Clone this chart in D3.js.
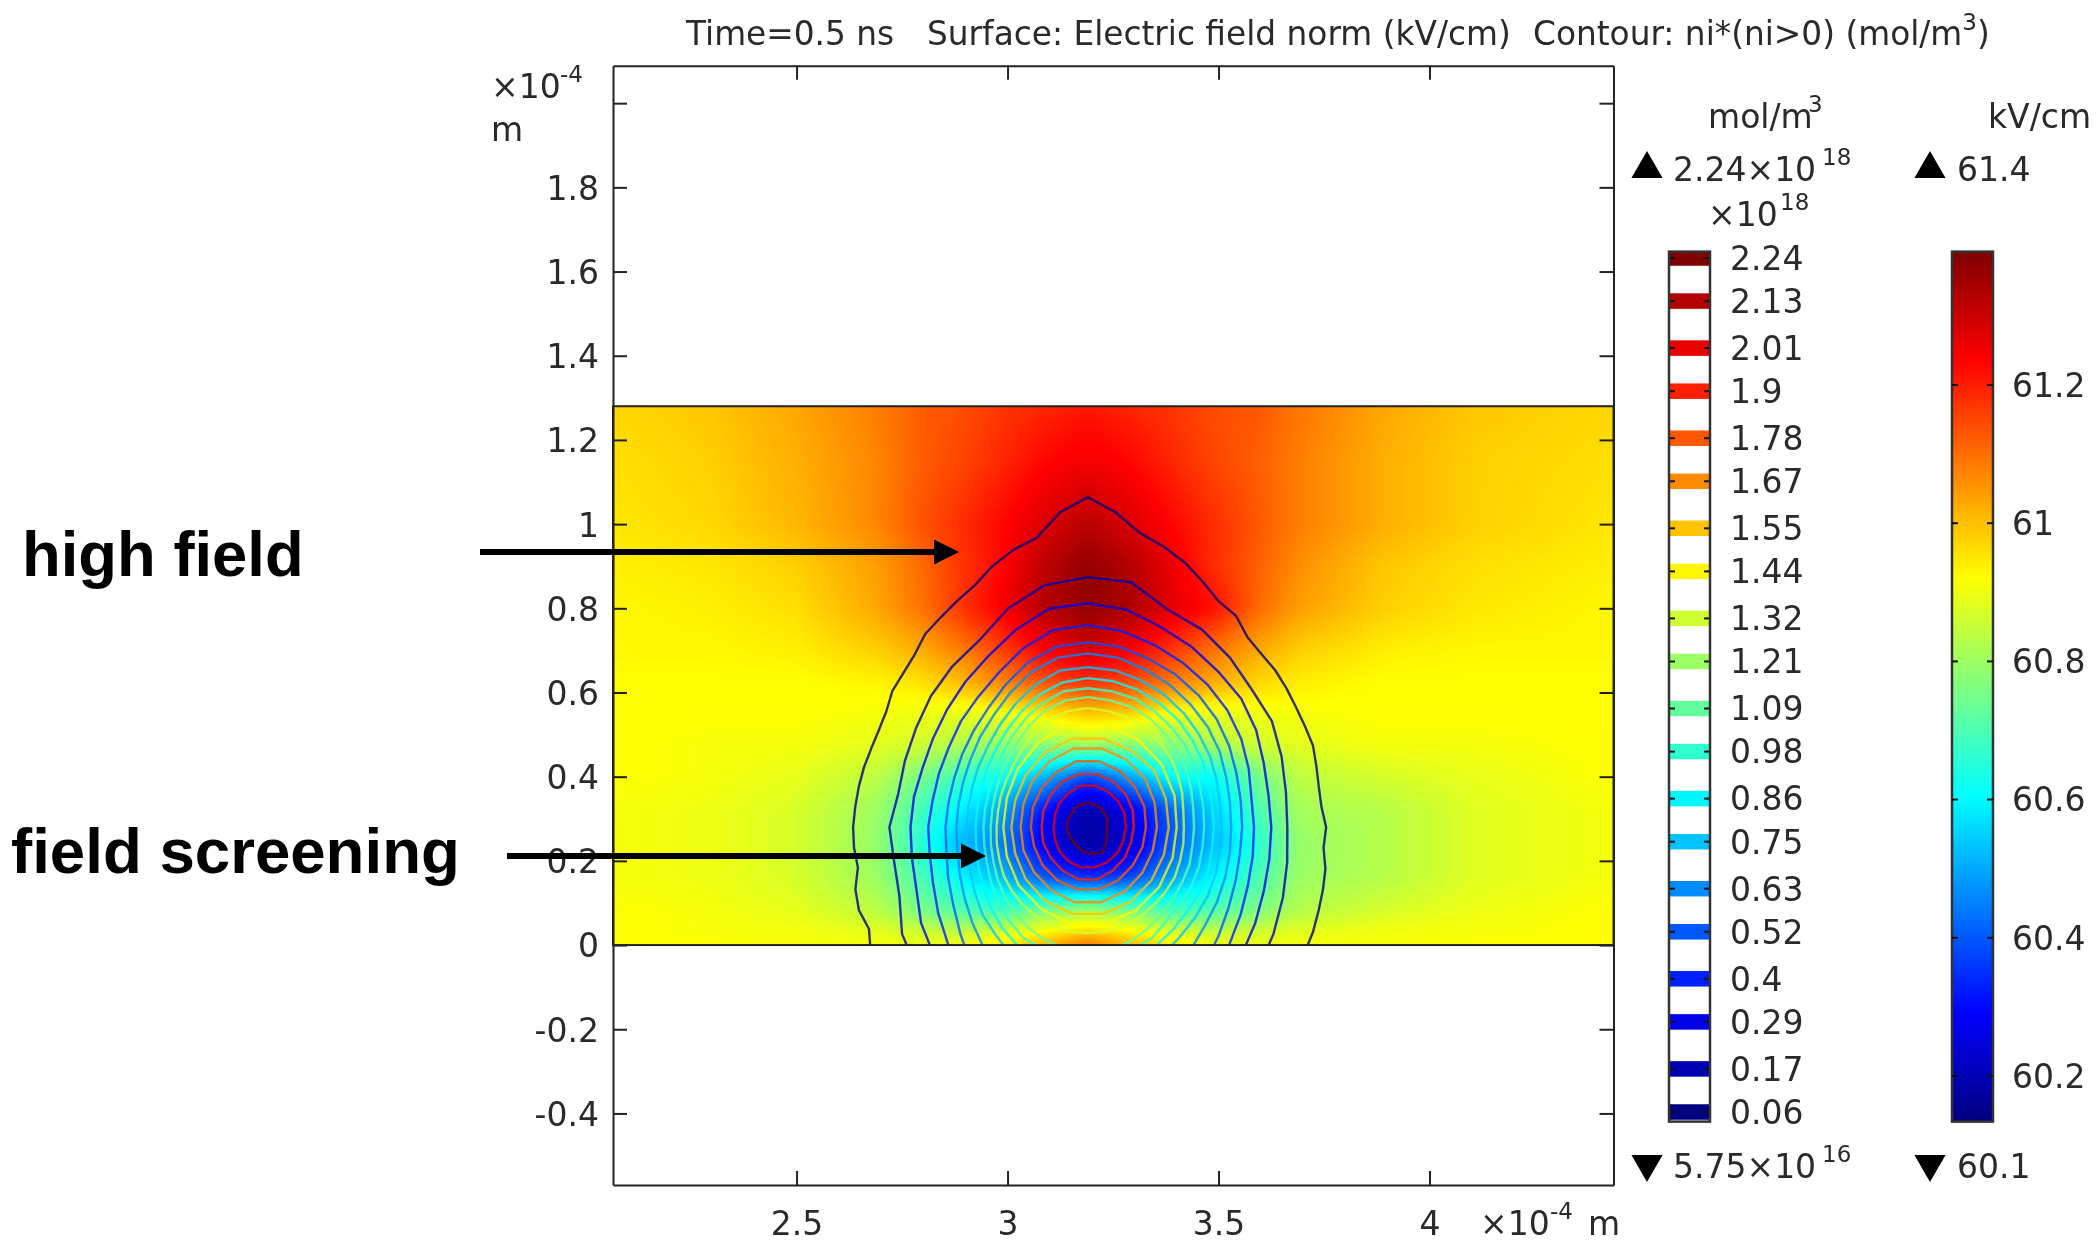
<!DOCTYPE html>
<html>
<head>
<meta charset="utf-8">
<script src="https://cdn.jsdelivr.net/npm/d3@7"></script>
<style>
  html, body { margin: 0; background: #fff; }
  #chart { position: relative; width: 2097px; height: 1243px; overflow: hidden; }
  #chart canvas, #chart svg { position: absolute; left: 0; top: 0; }
  text { font-family: "DejaVu Sans", sans-serif; fill: #2a2a2a; }
</style>
</head>
<body>
<div id="chart"></div>
<script>
const xTicks = [2.5, 3, 3.5, 4];
const yTicks = [-0.4, -0.2, 0, 0.2, 0.4, 0.6, 0.8, 1, 1.2, 1.4, 1.6, 1.8, 2];

// electric field norm (kV/cm), rows from y=1.28 down to y=0
const fieldX = [2.065, 2.3, 2.5, 2.69, 2.79, 2.89, 2.99, 3.09, 3.19, 3.29, 3.39, 3.49, 3.59, 3.69, 3.89, 4.1, 4.436];
const fieldY = [1.28, 1.15, 1.0, 0.9, 0.8, 0.7, 0.62, 0.55, 0.48, 0.4, 0.32, 0.24, 0.16, 0.08, 0.03, 0];
const fieldValues = [
  [60.97, 60.99, 61.03, 61.08, 61.12, 61.14, 61.17, 61.19, 61.21, 61.19, 61.17, 61.14, 61.13, 61.09, 61.03, 60.99, 60.97],
  [60.96, 60.98, 61.02, 61.07, 61.12, 61.15, 61.19, 61.23, 61.25, 61.23, 61.19, 61.15, 61.12, 61.08, 61.02, 60.98, 60.96],
  [60.95, 60.97, 61.01, 61.07, 61.13, 61.18, 61.23, 61.28, 61.32, 61.28, 61.23, 61.18, 61.13, 61.08, 61.02, 60.98, 60.95],
  [60.94, 60.95, 60.98, 61.04, 61.10, 61.17, 61.23, 61.32, 61.37, 61.33, 61.26, 61.18, 61.12, 61.06, 60.99, 60.96, 60.94],
  [60.93, 60.94, 60.96, 61.03, 61.09, 61.17, 61.25, 61.33, 61.37, 61.34, 61.27, 61.22, 61.11, 61.04, 60.98, 60.95, 60.93],
  [60.93, 60.93, 60.94, 60.98, 61.02, 61.08, 61.16, 61.24, 61.29, 61.24, 61.17, 61.09, 61.03, 60.98, 60.94, 60.93, 60.93],
  [60.92, 60.92, 60.92, 60.93, 60.95, 61.00, 61.07, 61.13, 61.17, 61.14, 61.08, 61.02, 60.97, 60.94, 60.92, 60.92, 60.92],
  [60.92, 60.92, 60.92, 60.91, 60.90, 60.89, 60.91, 60.95, 60.99, 60.98, 60.91, 60.89, 60.90, 60.91, 60.92, 60.92, 60.92],
  [60.92, 60.91, 60.91, 60.89, 60.87, 60.83, 60.80, 60.79, 60.83, 60.79, 60.79, 60.83, 60.87, 60.89, 60.91, 60.91, 60.92],
  [60.92, 60.91, 60.89, 60.84, 60.76, 60.68, 60.61, 60.51, 60.37, 60.49, 60.61, 60.61, 60.74, 60.84, 60.87, 60.89, 60.92],
  [60.91, 60.90, 60.87, 60.80, 60.69, 60.59, 60.49, 60.30, 60.18, 60.26, 60.41, 60.55, 60.69, 60.81, 60.83, 60.88, 60.91],
  [60.91, 60.90, 60.87, 60.79, 60.66, 60.51, 60.44, 60.26, 60.17, 60.23, 60.40, 60.52, 60.65, 60.79, 60.83, 60.88, 60.91],
  [60.91, 60.90, 60.87, 60.80, 60.70, 60.60, 60.52, 60.39, 60.34, 60.37, 60.49, 60.60, 60.69, 60.80, 60.83, 60.88, 60.91],
  [60.92, 60.91, 60.89, 60.84, 60.76, 60.71, 60.69, 60.76, 60.83, 60.76, 60.70, 60.71, 60.76, 60.83, 60.87, 60.90, 60.92],
  [60.92, 60.91, 60.91, 60.89, 60.87, 60.85, 60.89, 60.93, 60.97, 60.94, 60.89, 60.85, 60.87, 60.89, 60.91, 60.91, 60.92],
  [60.92, 60.92, 60.91, 60.91, 60.90, 60.91, 60.95, 61.02, 61.12, 61.02, 60.95, 60.91, 60.90, 60.91, 60.91, 60.92, 60.92]
];

// ni contours: distance (um) from the core at (3.19, 0.28), going round counter-clockwise
// from the +x direction in equal angle steps. Parts below y=0 get clipped off.
const coreX = 3.19;
const coreY = 0.28;
const contourLevels = [0.06, 0.17, 0.29, 0.4, 0.52, 0.63, 0.75, 0.86, 0.98, 1.09, 1.32, 1.44, 1.55, 1.67, 1.78, 1.9, 2.01, 2.24];
const contourRadii = [
  [56.5,55.6,55.6,56.1,56.8,56.8,57.0,57.5,58.0,58.2,58.9,61.3,62.0,64.4,67.0,69.1,71.0,75.1,78.4,75.1,69.8,68.2,66.0,63.4,62.0,60.8,59.9,58.0,57.0,56.5,55.1,54.6,54.6,54.9,55.1,55.3,55.6,55.6,55.3,57.0,57.7,57.2,59.4,61.3,62.9,62.9,62.9,62.9,62.9,62.9,62.9,62.9,62.9,62.9,62.9,62.9,62.9,62.9,62.9,62.9,62.9,62.9,62.9,62.9,62.9,61.3,59.4,58.9,58.2,57.7,57.2,56.1],
  [47.3,47.7,48.9,50.4,50.8,52.5,54.2,55.1,59.1,59.4,58.4,55.3,51.3,49.9,48.5,47.0,46.1,45.6,47.0,46.6,47.5,50.8,52.7,52.7,52.7,52.7,52.7,52.7,52.7,52.7,52.7,52.7,52.7,50.8,49.2,48.0],
  [43.5,43.5,44.4,46.1,47.5,48.2,49.4,50.6,52.5,53.2,52.7,49.9,47.0,45.1,43.5,42.3,41.6,41.8,42.0,42.3,43.2,45.6,47.5,51.1,51.1,51.1,51.1,51.1,51.1,51.1,51.1,51.1,47.5,45.8,44.4,43.7],
  [39.4,39.4,40.6,42.0,43.2,44.2,45.1,46.1,47.3,48.0,47.5,45.1,42.3,40.4,39.2,38.0,37.5,37.3,37.8,38.0,39.0,40.9,43.2,47.5,47.5,47.5,47.5,47.5,47.5,47.5,47.5,47.5,43.7,41.8,40.4,39.7],
  [36.6,36.8,37.5,38.7,39.9,40.9,41.8,42.5,43.5,43.9,43.5,41.6,39.0,36.8,35.4,34.4,33.7,33.5,33.7,34.0,35.2,36.8,39.4,42.8,46.3,46.3,46.3,46.3,46.3,46.3,46.3,42.8,40.4,38.5,37.3,36.6],
  [34.0,34.2,34.9,36.1,37.1,38.0,39.0,39.9,40.9,41.3,40.9,39.2,36.8,34.7,33.3,32.1,31.4,31.1,31.1,31.4,32.3,33.7,35.6,38.0,41.6,43.9,43.9,43.9,43.9,43.9,41.6,38.0,36.3,35.4,34.7,34.2],
  [31.8,31.8,32.5,33.5,34.4,35.4,36.3,37.1,37.8,38.0,37.8,36.1,34.0,32.1,30.6,29.7,29.0,28.7,28.7,29.0,29.7,30.9,32.5,33.7,35.6,39.2,40.4,40.4,40.4,39.2,35.2,34.0,33.3,32.8,32.3,31.8],
  [29.9,29.9,30.4,31.4,32.3,33.3,34.0,34.7,35.2,35.4,34.9,33.5,31.6,29.9,28.5,27.6,26.8,26.6,26.6,26.8,27.6,28.5,29.9,31.4,32.8,35.6,38.0,38.0,38.0,35.6,32.5,31.6,30.9,30.6,30.4,29.9],
  [27.6,27.8,28.3,29.2,30.2,30.9,31.8,32.5,32.8,33.0,32.8,31.4,29.7,28.0,26.6,25.7,24.9,24.7,24.7,24.9,25.4,26.4,27.6,29.0,30.4,30.9,32.1,33.3,32.1,30.9,30.4,29.0,28.5,28.3,28.0,27.6],
  [25.2,25.4,26.1,27.1,28.0,28.7,29.7,30.4,30.6,30.9,30.6,29.5,27.8,26.1,24.9,24.0,23.3,23.0,23.0,23.3,23.8,24.7,25.7,26.6,27.8,28.7,29.5,29.9,29.5,29.0,28.0,27.1,26.4,25.9,25.7,25.2],
  [22.8,23.0,23.8,24.7,25.7,26.4,27.1,27.8,28.0,28.3,28.0,27.1,25.7,24.2,23.0,22.3,21.9,21.6,21.6,21.9,22.3,23.0,23.5,24.0,24.5,24.9,25.2,25.2,25.2,24.9,24.7,24.2,24.0,23.8,23.3,23.0],
  [21.1,21.9,23.0,24.0,24.7,24.7,23.3,21.6,20.4,20.0,20.4,21.4,22.3,23.3,23.3,22.8,22.1,21.4],
  [19.2,19.7,20.7,20.9,21.4,21.4,20.4,19.2,18.3,18.1,18.3,19.2,20.2,20.9,20.9,20.4,19.7,19.2],
  [16.4,16.9,17.8,18.5,19.0,19.0,18.1,17.1,16.2,15.9,16.2,16.6,17.3,18.1,18.1,17.6,16.9,16.4],
  [13.8,14.3,14.7,15.4,15.9,15.9,15.0,14.3,13.8,13.5,13.5,14.0,14.5,15.0,15.0,14.5,14.0,13.8],
  [10.9,11.4,11.9,12.4,12.8,12.8,12.4,11.6,11.2,10.9,11.2,11.4,11.9,12.6,12.6,11.9,11.4,10.9],
  [9.0,9.3,9.5,9.7,10.0,10.0,9.3,8.8,8.3,8.1,8.3,8.8,9.3,9.7,9.7,9.5,9.3,9.0],
  [4.5,5.0,5.2,5.5,5.7,5.7,5.5,5.0,5.0,5.0,4.8,4.8,5.2,5.9,6.4,6.9,5.7,4.8]
];

// colour legends
const niLegendLevels = [2.24, 2.13, 2.01, 1.9, 1.78, 1.67, 1.55, 1.44, 1.32, 1.21, 1.09, 0.98, 0.86, 0.75, 0.63, 0.52, 0.4, 0.29, 0.17, 0.06];
const fieldLegendTicks = [61.2, 61, 60.8, 60.6, 60.4, 60.2];
const fieldMin = 60.134;
const fieldMax = 61.393;
const niMin = 0.06;
const niMax = 2.24;
const jetStops = [0, 0.125, 0.375, 0.625, 0.875, 1];
const jetColors = ["#00007f", "#0000ff", "#00ffff", "#ffff00", "#ff0000", "#7f0000"];

// ---- scales ----
const WIDTH = 2097;
const HEIGHT = 1243;
const PLOT_LEFT = 613;
const PLOT_RIGHT = 1613.5;
const PLOT_TOP = 65.7;
const PLOT_BOTTOM = 1185;
const TEXT_SIZE = 33;
const TITLE_SIZE = 32.8;
const TICK_LENGTH = 14;

const x = d3.scaleLinear().domain([2.065, 4.436]).range([PLOT_LEFT, PLOT_RIGHT]);
const y = d3.scaleLinear().domain([-0.57, 2.089]).range([PLOT_BOTTOM, PLOT_TOP]);
const jet = d3.scaleLinear().domain(jetStops).range(jetColors).clamp(true);
const fieldT = d3.scaleLinear().domain([fieldMin, fieldMax]).range([0, 1]);
const niT = d3.scaleLinear().domain([niMin, niMax]).range([0, 1]);
const fieldBarY = d3.scaleLinear().domain([60.2, 61.2]).range([1076, 385]);
const niBarY = d3.scaleLinear().domain([niMin, niMax]).range([1112, 258]);

const chart = d3.select("#chart");

// ---- surface: the field table resampled per pixel, coloured after blending values ----
const surfaceLeft = Math.round(x(fieldX[0]));
const surfaceTop = Math.round(y(fieldY[0]));
const surfaceWidth = Math.round(x(fieldX[fieldX.length - 1])) - surfaceLeft;
const surfaceHeight = Math.round(y(0)) - surfaceTop;

function fieldAt(xValue, yValue) {
    let col = Math.min(Math.max(d3.bisectRight(fieldX, xValue) - 1, 0), fieldX.length - 2);
    let row = 0;
    while (row < fieldY.length - 2 && fieldY[row + 1] > yValue) {
        row++;
    }
    let tx = (xValue - fieldX[col]) / (fieldX[col + 1] - fieldX[col]);
    let ty = (fieldY[row] - yValue) / (fieldY[row] - fieldY[row + 1]);
    let top = d3.interpolateNumber(fieldValues[row][col], fieldValues[row][col + 1])(tx);
    let bottom = d3.interpolateNumber(fieldValues[row + 1][col], fieldValues[row + 1][col + 1])(tx);
    return d3.interpolateNumber(top, bottom)(ty);
}

let surfaceData = new Float64Array(surfaceWidth * surfaceHeight);
for (let j = 0; j < surfaceHeight; j++) {
    for (let i = 0; i < surfaceWidth; i++) {
        surfaceData[j * surfaceWidth + i] = fieldAt(x.invert(surfaceLeft + i + 0.5), y.invert(surfaceTop + j + 0.5));
    }
}
d3.blur2({data: surfaceData, width: surfaceWidth, height: surfaceHeight}, 5);

const canvas = chart.append("canvas")
    .attr("width", surfaceWidth)
    .attr("height", surfaceHeight)
    .style("left", surfaceLeft + "px")
    .style("top", surfaceTop + "px");
const ctx = canvas.node().getContext("2d");
const image = ctx.createImageData(surfaceWidth, surfaceHeight);
for (let p = 0; p < surfaceData.length; p++) {
    let c = d3.rgb(jet(fieldT(surfaceData[p])));
    image.data[p * 4] = c.r;
    image.data[p * 4 + 1] = c.g;
    image.data[p * 4 + 2] = c.b;
    image.data[p * 4 + 3] = 255;
}
ctx.putImageData(image, 0, 0);

const svg = chart.append("svg").attr("width", WIDTH).attr("height", HEIGHT);
const defs = svg.append("defs");

// the reference plot is an upscaled raster, so everything but the annotations is slightly soft
const plot = svg.append("g").style("filter", "blur(0.6px)");

defs.append("clipPath").attr("id", "surface-clip").append("rect")
    .attr("x", surfaceLeft).attr("y", surfaceTop)
    .attr("width", surfaceWidth).attr("height", surfaceHeight);

// ---- ni contours ----
const contourLine = d3.line()
    .x(d => x(d[0]))
    .y(d => y(d[1]))
    .curve(d3.curveLinearClosed);

function contourPoints(radii) {
    return radii.map((r, i) => {
        let angle = 2 * Math.PI * i / radii.length;
        return [coreX + r / 100 * Math.cos(angle), coreY + r / 100 * Math.sin(angle)];
    });
}

plot.append("g")
    .attr("clip-path", "url(#surface-clip)")
    .selectAll("path")
    .data(contourRadii)
    .join("path")
    .attr("d", d => contourLine(contourPoints(d)))
    .attr("fill", "none")
    .attr("stroke", (d, i) => jet(niT(contourLevels[i])))
    .attr("stroke-opacity", 0.8)
    .attr("stroke-width", 2.4)
    .attr("stroke-linejoin", "round");

// ---- domain outline, frame and axes ----
plot.append("rect")
    .attr("x", x(fieldX[0])).attr("y", y(fieldY[0]))
    .attr("width", x(fieldX[fieldX.length - 1]) - x(fieldX[0]))
    .attr("height", y(0) - y(fieldY[0]))
    .attr("fill", "none")
    .attr("stroke", "#222")
    .attr("stroke-width", 2);

function styleAxis(g) {
    g.selectAll("path, line").attr("stroke", "#222").attr("stroke-width", 2);
    g.selectAll("text").attr("font-size", TEXT_SIZE).attr("fill", "#2a2a2a")
        .attr("font-family", '"DejaVu Sans", sans-serif');
}

plot.append("g").attr("transform", `translate(${PLOT_LEFT},0)`)
    .call(d3.axisLeft(y).tickValues(yTicks).tickSize(-TICK_LENGTH).tickSizeOuter(0).tickPadding(14)
        .tickFormat(d => d === 2 ? "" : String(d)))
    .call(styleAxis)
    .call(g => g.selectAll("text").attr("dy", "0.36em"));
plot.append("g").attr("transform", `translate(${PLOT_RIGHT},0)`)
    .call(d3.axisRight(y).tickValues(yTicks).tickSize(-TICK_LENGTH).tickSizeOuter(0).tickFormat(""))
    .call(styleAxis);
plot.append("g").attr("transform", `translate(0,${PLOT_BOTTOM})`)
    .call(d3.axisBottom(x).tickValues(xTicks).tickSize(-TICK_LENGTH).tickSizeOuter(0).tickPadding(27)
        .tickFormat(d => String(d)))
    .call(styleAxis);
plot.append("g").attr("transform", `translate(0,${PLOT_TOP})`)
    .call(d3.axisTop(x).tickValues(xTicks).tickSize(-TICK_LENGTH).tickSizeOuter(0).tickFormat(""))
    .call(styleAxis);

// ---- text helpers ----
function label(px, py, str, opts) {
    opts = opts || {};
    return plot.append("text")
        .attr("x", px)
        .attr("y", py)
        .attr("font-size", opts.size || TEXT_SIZE)
        .attr("text-anchor", opts.anchor || "start")
        .text(str);
}

function powerLabel(px, py, base, power, supX) {
    label(px, py, base);
    label(supX, py - 16, power, {size: 23});
}

// title
label(686, 45, "Time=0.5 ns", {size: TITLE_SIZE});
label(927, 45, "Surface: Electric field norm (kV/cm)", {size: TITLE_SIZE});
const contourTitle = label(1533, 45, "Contour: ni*(ni>0) (mol/m", {size: TITLE_SIZE});
contourTitle.append("tspan").attr("dy", -15).attr("font-size", 23).text("3");
contourTitle.append("tspan").attr("dy", 15).text(")");

// axis multipliers
powerLabel(491, 98, "×10", "-4", 560);
label(491, 141, "m");
powerLabel(1480, 1235, "×10", "-4", 1550);
label(1588, 1235, "m");

// ---- ni legend ----
const NI_BAR_LEFT = 1669;
const NI_BAR_WIDTH = 41;
const STRIP_HEIGHT = 15.5;
const BAR_TOP = fieldBarY(fieldMax);
const BAR_BOTTOM = fieldBarY(fieldMin);

powerLabel(1708, 128, "mol/m", "3", 1808);
powerLabel(1673, 181, "2.24×10", "18", 1822);
powerLabel(1708, 226, "×10", "18", 1780);
powerLabel(1673, 1178, "5.75×10", "16", 1822);

const niBar = plot.append("g");
niBar.selectAll("rect")
    .data(niLegendLevels)
    .join("rect")
    .attr("x", NI_BAR_LEFT)
    .attr("width", NI_BAR_WIDTH)
    .attr("y", d => Math.max(niBarY(d) - STRIP_HEIGHT / 2, BAR_TOP))
    .attr("height", d => Math.min(niBarY(d) + STRIP_HEIGHT / 2, BAR_BOTTOM) - Math.max(niBarY(d) - STRIP_HEIGHT / 2, BAR_TOP))
    .attr("fill", d => jet(niT(d)));
niBar.selectAll("line")
    .data(niLegendLevels)
    .join("line")
    .attr("x1", NI_BAR_LEFT).attr("x2", NI_BAR_LEFT + 6)
    .attr("y1", d => niBarY(d)).attr("y2", d => niBarY(d))
    .attr("stroke", "#111").attr("stroke-width", 2);
niBar.selectAll("line.right")
    .data(niLegendLevels)
    .join("line")
    .attr("class", "right")
    .attr("x1", NI_BAR_LEFT + NI_BAR_WIDTH - 6).attr("x2", NI_BAR_LEFT + NI_BAR_WIDTH)
    .attr("y1", d => niBarY(d)).attr("y2", d => niBarY(d))
    .attr("stroke", "#111").attr("stroke-width", 2);
niBar.append("rect")
    .attr("x", NI_BAR_LEFT).attr("y", BAR_TOP)
    .attr("width", NI_BAR_WIDTH).attr("height", BAR_BOTTOM - BAR_TOP)
    .attr("fill", "none").attr("stroke", "#333").attr("stroke-width", 2.5);
niBar.selectAll("text")
    .data(niLegendLevels)
    .join("text")
    .attr("x", 1730)
    .attr("y", d => niBarY(d))
    .attr("dy", "0.36em")
    .attr("font-size", TEXT_SIZE)
    .text(d => String(d));

// ---- field legend ----
const FIELD_BAR_LEFT = 1952;
const FIELD_BAR_WIDTH = 41;

label(1988, 128, "kV/cm");
label(1957, 181, "61.4");
label(1957, 1178, "60.1");

const gradient = defs.append("linearGradient")
    .attr("id", "jet-gradient")
    .attr("x1", 0).attr("y1", 1).attr("x2", 0).attr("y2", 0);
gradient.selectAll("stop")
    .data(jetStops)
    .join("stop")
    .attr("offset", d => d)
    .attr("stop-color", d => jet(d));

const fieldBar = plot.append("g");
fieldBar.append("rect")
    .attr("x", FIELD_BAR_LEFT).attr("y", BAR_TOP)
    .attr("width", FIELD_BAR_WIDTH).attr("height", BAR_BOTTOM - BAR_TOP)
    .attr("fill", "url(#jet-gradient)")
    .attr("stroke", "#333").attr("stroke-width", 2.5);
[0, FIELD_BAR_WIDTH - 6].forEach(dx => {
    fieldBar.append("g").selectAll("line")
        .data(fieldLegendTicks)
        .join("line")
        .attr("x1", FIELD_BAR_LEFT + dx).attr("x2", FIELD_BAR_LEFT + dx + 6)
        .attr("y1", d => fieldBarY(d)).attr("y2", d => fieldBarY(d))
        .attr("stroke", "#111").attr("stroke-width", 2);
});
fieldBar.selectAll("text")
    .data(fieldLegendTicks)
    .join("text")
    .attr("x", 2012)
    .attr("y", d => fieldBarY(d))
    .attr("dy", "0.36em")
    .attr("font-size", TEXT_SIZE)
    .text(d => String(d));

// over / under triangles
const triangle = d3.symbol().type(d3.symbolTriangle).size(420);
[[1647, 169, 0], [1930, 169, 0], [1647, 1164, 180], [1930, 1164, 180]].forEach(t => {
    plot.append("path")
        .attr("d", triangle())
        .attr("transform", `translate(${t[0]},${t[1]}) rotate(${t[2]})`)
        .attr("fill", "#000");
});

// ---- annotations ----
const annotations = [
    {text: "high field", textX: 22, textY: 576, size: 63.4, fromX: 480, toX: 959, arrowY: 552},
    {text: "field screening", textX: 11, textY: 873, size: 63.6, fromX: 507, toX: 986, arrowY: 856}
];

annotations.forEach(a => {
    svg.append("text")
        .attr("x", a.textX)
        .attr("y", a.textY)
        .attr("font-size", a.size)
        .style("font-family", '"Liberation Sans", Arial, sans-serif')
        .style("font-weight", "bold")
        .style("fill", "#000")
        .text(a.text);
    svg.append("line")
        .attr("x1", a.fromX).attr("x2", a.toX - 20)
        .attr("y1", a.arrowY).attr("y2", a.arrowY)
        .attr("stroke", "#000").attr("stroke-width", 6);
    svg.append("path")
        .attr("d", d3.line()([[a.toX, a.arrowY], [a.toX - 25, a.arrowY - 12.5], [a.toX - 25, a.arrowY + 12.5]]))
        .attr("fill", "#000");
});
</script>
</body>
</html>
